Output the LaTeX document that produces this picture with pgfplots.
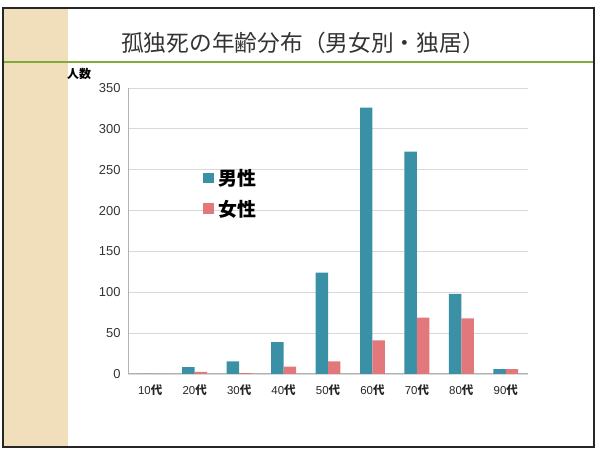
\documentclass[border=0pt]{standalone}
\usepackage{pgfplots}
\pgfplotsset{compat=1.18}
\usepackage{fontspec}
\setmainfont{Liberation Sans}
\newfontfamily\jp{Noto Sans CJK JP}
\definecolor{male}{RGB}{58,145,166}
\definecolor{female}{RGB}{226,120,124}
\definecolor{beige}{RGB}{240,223,186}
\definecolor{grn}{RGB}{128,170,60}
\begin{document}
\begin{tikzpicture}[x=1bp,y=1bp]
\path (0,0) rectangle (600,454);
\fill[beige] (4,8) rectangle (68,446);
\draw[grn, line width=2.5bp] (4,392) -- (593,392);
\draw[black!85, line width=2.5bp] (3,7) rectangle (594,446);
\node[font=\jp\fontsize{22.8}{27}\selectfont, text=black!80] at (303,411) {孤独死の年齢分布（男女別・独居）};
\node[font=\jp\bfseries\fontsize{12}{14}\selectfont] at (79,380) {人数};
\begin{axis}[
  at={(128bp,80bp)}, anchor=south west, scale only axis,
  width=400bp, height=286bp,
  ybar=0pt, bar width=0.28,
  xmin=-0.5, xmax=8.5, ymin=0, ymax=350,
  ytick={0,50,...,350}, xtick={0,...,8},
  xticklabels={10{\jp\bfseries 代},20{\jp\bfseries 代},30{\jp\bfseries 代},40{\jp\bfseries 代},50{\jp\bfseries 代},60{\jp\bfseries 代},70{\jp\bfseries 代},80{\jp\bfseries 代},90{\jp\bfseries 代}},
  ymajorgrids, grid style={black!15, line width=0.8bp},
  axis x line*=bottom, axis y line*=left,
  axis line style={black!30, line width=1bp},
  xtick style={draw=none}, ytick style={draw=none},
  /pgf/number format/assume math mode=true,
  yticklabel style={font=\fontsize{13}{15}\selectfont, text=black!80, xshift=-4bp},
  xticklabel style={font=\fontsize{11.5}{13}\selectfont, text=black!85, yshift=-3bp},
  legend style={at={(0.18,0.73)}, anchor=north west, draw=none, fill=none,
    font=\jp\bfseries\fontsize{19}{22}\selectfont, row sep=9bp, column sep=3bp},
  legend cell align=left,
  legend image code/.code={\fill[#1] (0bp,-5bp) rectangle (10.5bp,5.5bp);},
]
\addplot[fill=male, draw=none] coordinates {(0,0) (1,8.5) (2,15.5) (3,39) (4,124) (5,326) (6,272) (7,98) (8,6)};
\addplot[fill=female, draw=none] coordinates {(0,0) (1,2.5) (2,1) (3,9) (4,15.5) (5,41) (6,69) (7,68) (8,6)};
\legend{男性,女性}
\end{axis}
\end{tikzpicture}
\end{document}
